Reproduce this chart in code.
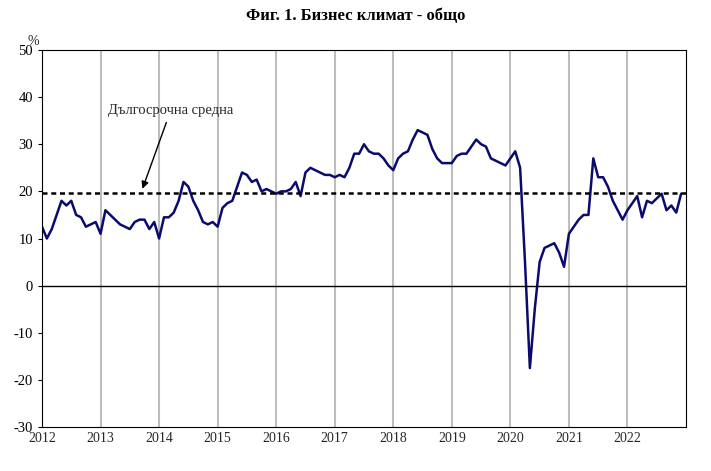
import numpy as np, pandas as pd, seaborn as sns, matplotlib
matplotlib.use("Agg")
import matplotlib.pyplot as plt

sns.set_style("white")
plt.rcParams['font.family'] = ['Liberation Serif', 'DejaVu Serif']
plt.rcParams['axes.unicode_minus'] = False

years = list(range(2012, 2023))
v2012 = [12.5, 10, 12, 15, 18, 17, 18, 15, 14.5, 12.5, 13, 13.5]
v2013 = [11, 16, 15, 14, 13, 12.5, 12, 13.5, 14, 14, 12, 13.5]
v2014 = [10, 14.5, 14.5, 15.5, 18, 22, 21, 18, 16, 13.5, 13, 13.5]
v2015 = [12.5, 16.5, 17.5, 18, 21, 24, 23.5, 22, 22.5, 20, 20.5, 20]
v2016 = [19.5, 20, 20, 20.5, 22, 19, 24, 25, 24.5, 24, 23.5, 23.5]
v2017 = [23, 23.5, 23, 25, 28, 28, 30, 28.5, 28, 28, 27, 25.5]
v2018 = [24.5, 27, 28, 28.5, 31, 33, 32.5, 32, 29, 27, 26, 26]
v2019 = [26, 27.5, 28, 28, 29.5, 31, 30, 29.5, 27, 26.5, 26, 25.5]
v2020 = [27, 28.5, 25, 5, -17.5, -5, 5, 8, 8.5, 9, 7, 4]
v2021 = [11, 12.5, 14, 15, 15, 27, 23, 23, 21, 18, 16, 14]
v2022 = [16, 17.5, 19, 14.5, 18, 17.5, 18.5, 19.5, 16, 17, 15.5, 19.5]
long_term_avg = 19.7
values = v2012 + v2013 + v2014 + v2015 + v2016 + v2017 + v2018 + v2019 + v2020 + v2021 + v2022
t = [y + m / 12 for y in years for m in range(12)]
df = pd.DataFrame({"t": t, "v": values})

fig = plt.figure(figsize=(7.11, 4.71), dpi=100)
ax = fig.add_axes([42/711, 1-427/471, 644/711, 377/471])
sns.lineplot(data=df, x="t", y="v", ax=ax, color="#0b0b6e", linewidth=1.8)
ax.axhline(long_term_avg, color="black", linestyle=(0, (2, 1.5)), linewidth=1.8)
ax.axhline(0, color="black", linewidth=1)
ax.set_xlim(2012, 2023)
ax.set_ylim(-30, 50)
ax.set_xticks(years)
ax.set_xticklabels([str(y) for y in years], fontsize=10)
ax.set_yticks(range(-30, 51, 10))
ax.tick_params(axis='y', labelsize=10.5, length=3, left=True, colors='black')
ax.tick_params(axis='x', length=0)
for y in years[1:]:
    ax.axvline(y, color="#bdbdbd", linewidth=1.5, zorder=0)
ax.set_xlabel(""); ax.set_ylabel("")
for s in ax.spines.values():
    s.set_color("black"); s.set_linewidth(0.8)
ax.text(2011.95, 50.5, "%", fontsize=10, ha='right', va='bottom')
ax.annotate("Дългосрочна средна", xy=(2013.7, 20), xytext=(2014.2, 36.5),
            fontsize=10.5, ha='center',
            arrowprops=dict(arrowstyle="-|>", color="black", lw=1))
fig.text(0.5, 0.965, "Фиг. 1. Бизнес климат - общо", ha='center', va='center',
         fontsize=12, fontweight='bold', color='black')
fig.savefig("out.png", dpi=100)
